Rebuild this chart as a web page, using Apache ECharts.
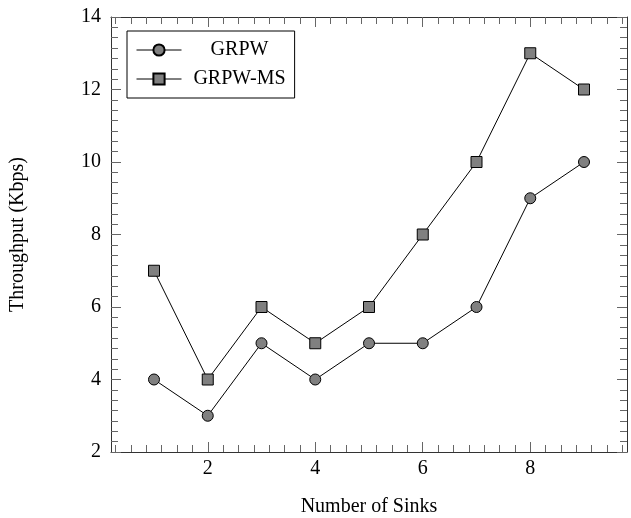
<!DOCTYPE html>
<html>
<head>
<meta charset="utf-8">
<script src="https://cdn.jsdelivr.net/npm/echarts@6/dist/echarts.min.js"></script>
<style>
  html, body { margin: 0; padding: 0; background: #fff; }
  #chart { width: 631px; height: 518px; }
</style>
</head>
<body>
<div id="chart"></div>
<script>
// data
var sinks = [1, 2, 3, 4, 5, 6, 7, 8, 9];
var grpw = [4, 3, 5, 4, 5, 5, 6, 9, 10];
var grpwMs = [7, 4, 6, 5, 6, 8, 10, 13, 12];
var xTicks = [2, 4, 6, 8];
var seriesNames = ["GRPW", "GRPW-MS"];

var font = "Liberation Serif";
var xMin = 0.2, xMax = 9.8;

// minor ticks: 6 between each pair of majors
var xMinor = [];
for (var v = 2 - 2 / 7 * 6; v < xMax; v += 2 / 7) {
  var r = Math.round(v * 1000) / 1000;
  if (r > xMin && xTicks.indexOf(r) < 0) xMinor.push(r);
}

function pairs(ys) {
  return sinks.map(function (x, i) { return [x, ys[i]]; });
}

function xAxisOf(pos, minor, labels) {
  return {
    type: "value", position: pos, min: xMin, max: xMax,
    axisLine: { show: !minor, onZero: false, lineStyle: { color: "#333", width: 1 } },
    axisTick: {
      show: true, inside: true, length: minor ? 7 : 10,
      customValues: minor ? xMinor : xTicks,
      lineStyle: { color: "#666" }
    },
    axisLabel: {
      show: labels, customValues: xTicks, margin: 7,
      color: "#000", fontFamily: font, fontSize: 20
    },
    splitLine: { show: false },
    name: labels && !minor ? "Number of Sinks" : "",
    nameLocation: "middle", nameGap: 45,
    nameTextStyle: { color: "#000", fontFamily: font, fontSize: 20 }
  };
}

function yAxisOf(pos, labels) {
  return {
    type: "value", position: pos, min: 2, max: 14, interval: 2,
    axisLine: { show: true, onZero: false, lineStyle: { color: "#333", width: 1 } },
    axisTick: { show: true, inside: true, length: 10, lineStyle: { color: "#666" } },
    minorTick: { show: true, splitNumber: 7, length: 7, lineStyle: { color: "#666" } },
    axisLabel: { show: labels, margin: 10, color: "#000", fontFamily: font, fontSize: 20 },
    splitLine: { show: false },
    name: labels ? "Throughput (Kbps)" : "",
    nameLocation: "middle", nameGap: 83,
    nameTextStyle: { color: "#000", fontFamily: font, fontSize: 20 }
  };
}

function line(name, data, symbol) {
  return {
    name: name, type: "line", data: pairs(data),
    symbol: symbol, symbolSize: 11,
    lineStyle: { color: "#000", width: 1 },
    itemStyle: { color: "#808080", borderColor: "#000", borderWidth: 1 },
    emphasis: { disabled: true },
    animation: false
  };
}

var chart = echarts.init(document.getElementById("chart"));
chart.setOption({
  backgroundColor: "#fff",
  animation: false,
  grid: { left: 111, right: 4, top: 17, bottom: 66, containLabel: false, outerBoundsMode: "none" },
  legend: {
    orient: "vertical", left: 127, top: 31,
    padding: [9, 9], itemGap: 9,
    itemWidth: 45, itemHeight: 14,
    borderColor: "#000", borderWidth: 1, backgroundColor: "#fff",
    data: seriesNames,
    lineStyle: { width: 1 },
    formatter: "{t|{name}}",
    textStyle: {
      rich: { t: { width: 106, align: "center", fontFamily: font, fontSize: 20, color: "#000" } }
    }
  },
  xAxis: [
    xAxisOf("bottom", false, true),
    xAxisOf("bottom", true, false),
    xAxisOf("top", false, false),
    xAxisOf("top", true, false)
  ],
  yAxis: [yAxisOf("left", true), yAxisOf("right", false)],
  series: [
    line(seriesNames[0], grpw, "circle"),
    line(seriesNames[1], grpwMs, "rect")
  ]
});
</script>
</body>
</html>
